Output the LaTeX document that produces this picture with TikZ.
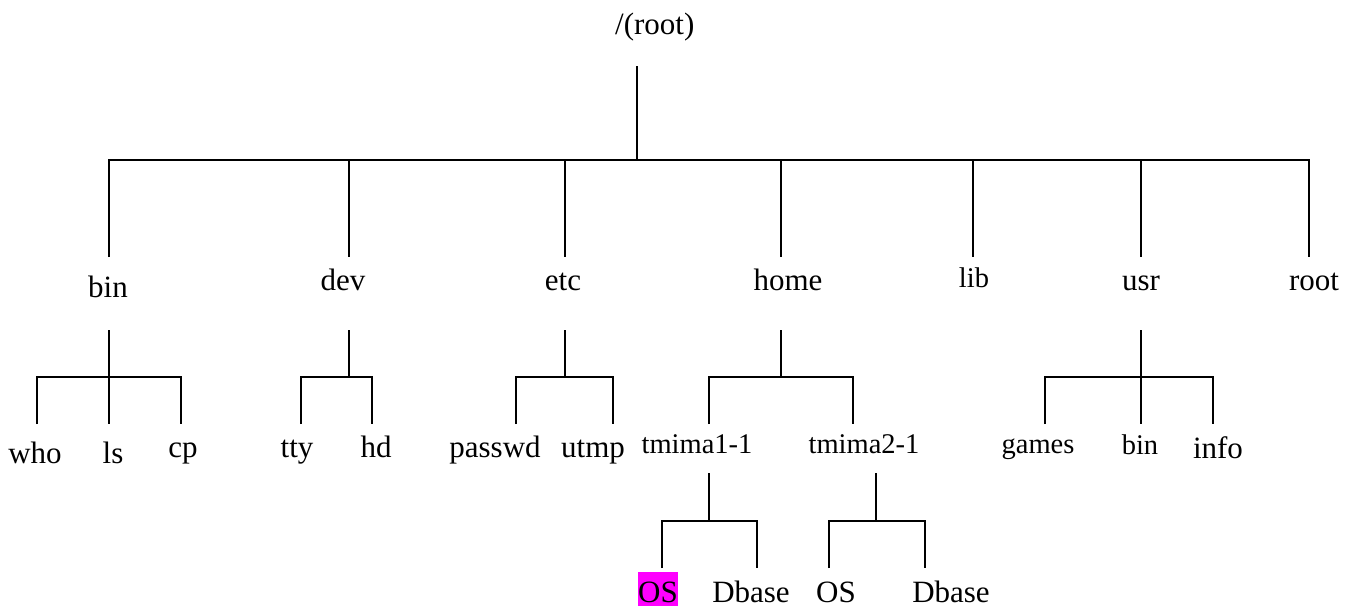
\documentclass[tikz,border=0pt]{standalone}
\usepackage{fontspec}
\setmainfont{Liberation Serif}
\definecolor{hlmag}{RGB}{255,0,255}
\begin{document}
\begin{tikzpicture}[x=1pt,y=-1pt,
  wire/.style={draw=black, line width=1.8pt},
  lbl/.style={inner sep=0pt, anchor=base, font=\fontsize{31}{31}\selectfont},
  sml/.style={lbl, font=\fontsize{28.5}{28.5}\selectfont},
  hl/.style={lbl, fill=hlmag, inner xsep=0.6pt, text height=30pt, text depth=4pt}]
\useasboundingbox (0,0) rectangle (1356,606);

% ---------- labels ----------
\node[lbl, anchor=base west] (top) at (615,34) {/(root)};

\node[lbl] (bin)  at (108,297) {bin};
\node[lbl] (dev)  at (343,290) {dev};
\node[lbl] (etc)  at (563,290) {etc};
\node[lbl] (home) at (788,290) {home};
\node[sml] (lib)  at (974,287) {lib};
\node[lbl] (usr)  at (1141,290) {usr};
\node[lbl] (rootd) at (1314,290) {root};

\node[lbl] (who) at (35,463) {who};
\node[lbl] (ls)  at (113,463) {ls};
\node[lbl] (cp)  at (183,457) {cp};
\node[lbl] (tty) at (297,457) {tty};
\node[lbl] (hd)  at (376,457) {hd};
\node[lbl] (passwd) at (495,457) {passwd};
\node[lbl] (utmp)   at (593,457) {utmp};
\node[sml] (tm1) at (697,453) {tmima1-1};
\node[sml] (tm2) at (864,453) {tmima2-1};
\node[sml] (games) at (1038,453) {games};
\node[sml] (ubin)  at (1140,454) {bin};
\node[lbl] (info)  at (1218,458) {info};

\node[hl]  (os1) at (658,602) {OS};
\node[lbl] (db1) at (751,602) {Dbase};
\node[lbl] (os2) at (836,602) {OS};
\node[lbl] (db2) at (951,602) {Dbase};

% ---------- level 1 ----------
\coordinate (top-out) at (637,66);
\coordinate (j-top) at (637,160);
\foreach \n/\x in {bin/109,dev/349,etc/565,home/781,lib/973,usr/1141,rootd/1309}{
  \coordinate (j-\n) at (\x,160);
  \coordinate (\n-in) at (\x,257);
}
\draw[wire] (top-out) -- (j-top);
\draw[wire] (bin-in) -- (j-bin) -- (j-rootd) -- (rootd-in);
\foreach \n in {dev,etc,home,lib,usr}{\draw[wire] (j-\n) -- (\n-in);}

% ---------- level 2 ----------
% bin
\coordinate (bin-out) at (109,330);
\coordinate (k-who) at (37,377);  \coordinate (who-in) at (37,424);
\coordinate (ls-in)  at (109,424);
\coordinate (k-cp)  at (181,377); \coordinate (cp-in)  at (181,424);
\draw[wire] (bin-out) -- (ls-in);
\draw[wire] (who-in) -- (k-who) -- (k-cp) -- (cp-in);
% dev
\coordinate (dev-out) at (349,330);
\coordinate (k-dev) at (349,377);
\coordinate (k-tty) at (301,377); \coordinate (tty-in) at (301,424);
\coordinate (k-hd)  at (372,377); \coordinate (hd-in)  at (372,424);
\draw[wire] (dev-out) -- (k-dev);
\draw[wire] (tty-in) -- (k-tty) -- (k-hd) -- (hd-in);
% etc
\coordinate (etc-out) at (565,330);
\coordinate (k-etc) at (565,377);
\coordinate (k-passwd) at (516,377); \coordinate (passwd-in) at (516,424);
\coordinate (k-utmp)   at (613,377); \coordinate (utmp-in)   at (613,424);
\draw[wire] (etc-out) -- (k-etc);
\draw[wire] (passwd-in) -- (k-passwd) -- (k-utmp) -- (utmp-in);
% home
\coordinate (home-out) at (781,330);
\coordinate (k-home) at (781,377);
\coordinate (k-tm1) at (709,377); \coordinate (tm1-in) at (709,424);
\coordinate (k-tm2) at (853,377); \coordinate (tm2-in) at (853,424);
\draw[wire] (home-out) -- (k-home);
\draw[wire] (tm1-in) -- (k-tm1) -- (k-tm2) -- (tm2-in);
% usr
\coordinate (usr-out) at (1141,330);
\coordinate (k-games) at (1045,377); \coordinate (games-in) at (1045,424);
\coordinate (ubin-in) at (1141,424);
\coordinate (k-info)  at (1213,377); \coordinate (info-in)  at (1213,424);
\draw[wire] (usr-out) -- (ubin-in);
\draw[wire] (games-in) -- (k-games) -- (k-info) -- (info-in);

% ---------- level 3 ----------
\coordinate (tm1-out) at (709,473);
\coordinate (m-tm1) at (709,521);
\coordinate (m-os1) at (662,521); \coordinate (os1-in) at (662,568);
\coordinate (m-db1) at (757,521); \coordinate (db1-in) at (757,568);
\draw[wire] (tm1-out) -- (m-tm1);
\draw[wire] (os1-in) -- (m-os1) -- (m-db1) -- (db1-in);

\coordinate (tm2-out) at (876,473);
\coordinate (m-tm2) at (876,521);
\coordinate (m-os2) at (829,521); \coordinate (os2-in) at (829,568);
\coordinate (m-db2) at (925,521); \coordinate (db2-in) at (925,568);
\draw[wire] (tm2-out) -- (m-tm2);
\draw[wire] (os2-in) -- (m-os2) -- (m-db2) -- (db2-in);
\end{tikzpicture}
\end{document}
